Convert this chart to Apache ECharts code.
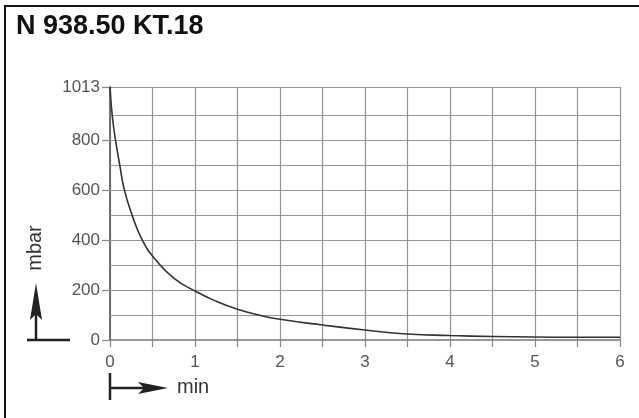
<!DOCTYPE html>
<html>
<head>
<meta charset="utf-8">
<script src="https://cdn.jsdelivr.net/npm/echarts@6/dist/echarts.min.js"></script>
<style>html,body{margin:0;padding:0;background:#fff;}#c{width:639px;height:418px;}</style>
</head>
<body>
<div id="c"></div>
<script>
// Data
const titleText = 'N 938.50 KT.18';
const yUnit = 'mbar';
const xUnit = 'min';
const timeMin = [0, 0.026, 0.065, 0.115, 0.17, 0.26, 0.38, 0.535, 0.75, 1, 1.25, 1.5, 1.75, 2, 2.5, 3, 3.5, 4, 4.5, 5, 5.5, 6];
const pressureMbar = [1013, 900, 800, 700, 600, 500, 400, 322, 248, 196, 155, 123, 100, 83, 60, 40, 24, 18, 14, 12, 11, 11];
const yTickLabels = [0, 200, 400, 600, 800, 1013];
const yGridLines = [100, 200, 300, 400, 500, 600, 700, 800, 900, 1013];
const xTickLabels = [0, 1, 2, 3, 4, 5, 6];

const chart = echarts.init(document.getElementById('c'), null, {renderer: 'canvas'});
const labelFont = {fontFamily: 'Liberation Sans, Arial, sans-serif', fontSize: 17, color: '#555'};

chart.setOption({
  animation: false,
  backgroundColor: '#fff',
  grid: {left: 110, right: 19, top: 87, bottom: 78, containLabel: false},
  xAxis: {
    type: 'value', min: 0, max: 6, interval: 0.5,
    axisLine: {show: true, lineStyle: {color: '#777', width: 1.5}},
    axisTick: {show: true, length: 7, lineStyle: {color: '#888', width: 1.2}},
    axisLabel: Object.assign({customValues: xTickLabels, margin: 14, formatter: v => String(v)}, labelFont),
    splitLine: {show: true, lineStyle: {color: '#959595', width: 1.2}}
  },
  yAxis: {
    type: 'value', min: 0, max: 1013,
    axisLine: {show: true, lineStyle: {color: '#666', width: 1.8}},
    axisTick: {show: true, customValues: yTickLabels, length: 8, lineStyle: {color: '#888', width: 1.2}},
    axisLabel: Object.assign({customValues: yTickLabels, margin: 10, formatter: v => String(v)}, labelFont),
    splitLine: {show: false}
  },
  series: [{
    type: 'line',
    data: timeMin.map((t, i) => [t, pressureMbar[i]]),
    smooth: 0.5,
    showSymbol: false,
    lineStyle: {color: '#333', width: 1.6},
    z: 5,
    markLine: {
      silent: true,
      symbol: ['none', 'none'],
      label: {show: false},
      lineStyle: {color: '#959595', width: 1.2, type: 'solid'},
      data: yGridLines.map(v => ({yAxis: v})),
      animation: false,
      z: 1
    }
  }],
  graphic: [
    {type: 'rect', shape: {x: 5, y: 6, width: 700, height: 500}, style: {fill: 'none', stroke: '#111', lineWidth: 2}, silent: true},
    {type: 'text', left: 16, top: 13, style: {text: titleText, fontFamily: 'Liberation Sans, Arial, sans-serif', fontWeight: 'bold', fontSize: 27, fill: '#111'}},
    {type: 'text', x: 35, y: 248, rotation: Math.PI / 2, style: {text: yUnit, fontFamily: 'Liberation Sans, Arial, sans-serif', fontSize: 20, fill: '#333', align: 'center', verticalAlign: 'middle'}},
    {type: 'line', shape: {x1: 36, y1: 310, x2: 36, y2: 340}, style: {stroke: '#222', lineWidth: 2.5}},
    {type: 'polygon', shape: {points: [[36, 283], [42, 320], [36, 314], [30, 320]]}, style: {fill: '#222'}},
    {type: 'line', shape: {x1: 27, y1: 340, x2: 70, y2: 340}, style: {stroke: '#222', lineWidth: 2.5}},
    {type: 'line', shape: {x1: 110, y1: 373, x2: 110, y2: 400}, style: {stroke: '#222', lineWidth: 2.5}},
    {type: 'line', shape: {x1: 110, y1: 388, x2: 145, y2: 388}, style: {stroke: '#222', lineWidth: 2.5}},
    {type: 'polygon', shape: {points: [[168, 388], [138, 382], [144, 388], [138, 394]]}, style: {fill: '#222'}},
    {type: 'text', x: 177, y: 387, style: {text: xUnit, fontFamily: 'Liberation Sans, Arial, sans-serif', fontSize: 20, fill: '#333', align: 'left', verticalAlign: 'middle'}}
  ]
});
</script>
</body>
</html>
